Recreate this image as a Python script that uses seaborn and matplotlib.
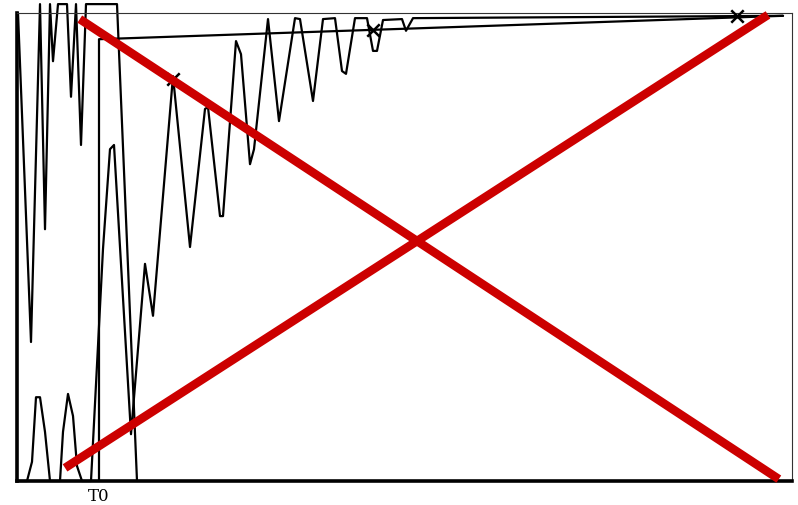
import matplotlib
matplotlib.use("Agg")
import matplotlib.pyplot as plt
import seaborn as sns
import pandas as pd

# ---- data (time in arbitrary units, response normalised) ----
t_fast = [1, 14, 23, 28, 33, 36, 41, 50, 54, 59, 64, 69, 100, 120]
y_fast = [1.000, 0.297, 1.019, 0.538, 1.019, 0.897, 1.019, 1.019, 0.821,
          1.019, 0.718, 1.019, 1.019, 0.0]

t_resp = [1, 10, 15, 19, 23, 28, 33, 43, 46, 51, 56, 60, 65, 74, 86, 90, 93, 97,
          114, 128, 136, 156, 173, 188, 191, 203, 206, 219, 224, 233, 237, 251,
          262, 278, 283, 296, 306, 318, 325, 329, 338, 350, 356, 360, 366, 385,
          389, 396, 766]
y_resp = [0.0, 0.0, 0.041, 0.179, 0.179, 0.105, 0.0, 0.0, 0.105, 0.186, 0.139,
          0.032, 0.0, 0.0, 0.496, 0.618, 0.709, 0.718, 0.100, 0.464, 0.353,
          0.865, 0.500, 0.795, 0.799, 0.566, 0.566, 0.940, 0.912, 0.677, 0.709,
          0.987, 0.769, 0.989, 0.987, 0.812, 0.987, 0.989, 0.876, 0.870, 0.989,
          0.989, 0.919, 0.919, 0.985, 0.987, 0.962, 0.989, 0.994]

t_ref = [82, 82, 766]
y_ref = [0.0, 0.944, 0.994]

t_mark = [156, 356, 720]
y_mark = [0.859, 0.964, 0.994]

tick_pos = [82]
tick_labels = ["T0"]

# red cross-out strokes (axes fraction)
cross_a_x = [0.081, 0.983]
cross_a_y = [0.987, 0.004]
cross_b_x = [0.062, 0.969]
cross_b_y = [0.028, 0.996]

sns.set_style("white")

fig = plt.figure(figsize=(7.98, 5.06), dpi=100)
ax = fig.add_axes([17 / 798, 24 / 506, 775 / 798, 468 / 506])

line_kw = dict(color="black", linewidth=1.6, sort=False, estimator=None, ax=ax)
sns.lineplot(data=pd.DataFrame({"t": t_fast, "y": y_fast}), x="t", y="y", **line_kw)
sns.lineplot(data=pd.DataFrame({"t": t_resp, "y": y_resp}), x="t", y="y", **line_kw)
sns.lineplot(data=pd.DataFrame({"t": t_ref, "y": y_ref}), x="t", y="y", **line_kw)
sns.scatterplot(data=pd.DataFrame({"t": t_mark, "y": y_mark}), x="t", y="y",
                marker="x", s=80, color="black", linewidth=1.8, ax=ax, zorder=4)

for ln in ax.get_lines():
    ln.set_clip_on(False)
    ln.set_solid_joinstyle("round")
for coll in ax.collections:
    coll.set_clip_on(False)

ax.set_xlim(0, 775)
ax.set_ylim(0, 1)
ax.set_xlabel("")
ax.set_ylabel("")
ax.set_yticks([])
ax.set_xticks(tick_pos)
ax.set_xticklabels(tick_labels, family="DejaVu Serif", fontsize=12)
ax.tick_params(axis="x", length=0, pad=4, colors="black")

for side in ["left", "bottom"]:
    ax.spines[side].set_linewidth(2.6)
    ax.spines[side].set_color("black")
for side in ["top", "right"]:
    ax.spines[side].set_linewidth(0.8)
    ax.spines[side].set_color("#333333")

red_kw = dict(color="#cc0000", linewidth=6.2, solid_capstyle="butt",
              transform=ax.transAxes, clip_on=False, zorder=6)
ax.plot(cross_a_x, cross_a_y, **red_kw)
ax.plot(cross_b_x, cross_b_y, **red_kw)

fig.savefig("out.png", dpi=100, facecolor="white")
